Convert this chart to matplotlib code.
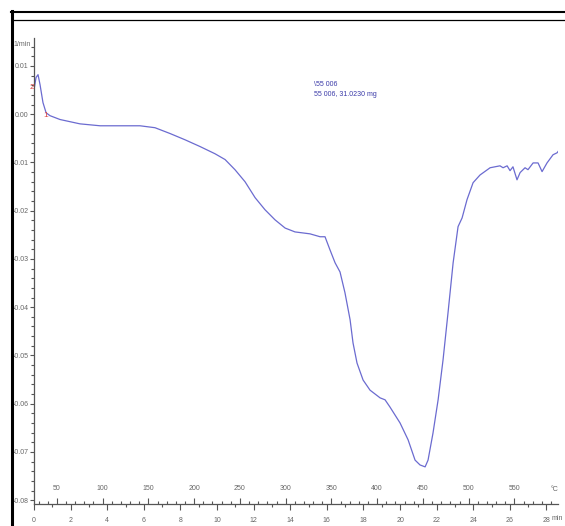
import numpy as np
import matplotlib.pyplot as plt
from matplotlib.lines import Line2D
from matplotlib.ticker import MultipleLocator

# DTG curve: time [min] and mass-loss rate [1/min]
time_min = [0.00, 0.11, 0.22, 0.33, 0.49, 0.66, 0.87, 1.42, 2.51, 3.61, 4.70, 5.79,
            6.61, 7.43, 8.25, 9.07, 9.89, 10.44, 10.98, 11.53, 12.08, 12.62, 13.17,
            13.72, 14.26, 15.08, 15.63, 15.90, 16.17, 16.45, 16.72, 16.99, 17.27,
            17.43, 17.65, 17.98, 18.36, 18.91, 19.18, 19.45, 20.00, 20.44, 20.82,
            21.09, 21.37, 21.53, 21.80, 22.08, 22.35, 22.62, 22.90, 23.17, 23.39,
            23.66, 23.99, 24.37, 24.92, 25.46, 25.63, 25.85, 26.01, 26.17, 26.39,
            26.56, 26.83, 26.99, 27.27, 27.54, 27.76, 28.03, 28.36, 28.58, 28.74]
dtg = [0.0051, 0.0076, 0.0082, 0.0061, 0.0024, 0.0003, -0.0003, -0.0011, -0.0020,
       -0.0024, -0.0024, -0.0024, -0.0028, -0.0040, -0.0053, -0.0067, -0.0082,
       -0.0094, -0.0115, -0.0140, -0.0173, -0.0198, -0.0219, -0.0236, -0.0244,
       -0.0248, -0.0254, -0.0254, -0.0281, -0.0308, -0.0327, -0.0370, -0.0426,
       -0.0474, -0.0516, -0.0551, -0.0572, -0.0588, -0.0592, -0.0607, -0.0640,
       -0.0675, -0.0717, -0.0727, -0.0731, -0.0717, -0.0661, -0.0592, -0.0509,
       -0.0412, -0.0308, -0.0233, -0.0215, -0.0177, -0.0142, -0.0126, -0.0111,
       -0.0107, -0.0111, -0.0107, -0.0117, -0.0109, -0.0136, -0.0121, -0.0111,
       -0.0115, -0.0101, -0.0101, -0.0119, -0.0101, -0.0084, -0.0080, -0.0072]

# heating program: start temperature and rate
t_start = 25.0
rate = 20.0

y_ticks = [0.01, 0.00, -0.01, -0.02, -0.03, -0.04, -0.05, -0.06, -0.07, -0.08]
time_ticks = list(range(0, 29, 2))
temp_ticks = list(range(50, 551, 50))

sample_lines = ["\\55 006", "55 006, 31.0230 mg"]

plt.rcParams['font.family'] = ['Liberation Sans', 'DejaVu Sans']
plt.rcParams['axes.unicode_minus'] = False

fig = plt.figure(figsize=(5.65, 5.26), dpi=100)
ax = fig.add_axes([0.0602, 0.0418, 0.9274, 0.886])

ax.plot(time_min, dtg, color='#6b6bd0', lw=0.9)

ax.set_xlim(0, 28.63)
ax.set_ylim(-0.0808, 0.0158)

for s in ['top', 'right']:
    ax.spines[s].set_visible(False)
for s in ['left', 'bottom']:
    ax.spines[s].set_color('#555555')
    ax.spines[s].set_linewidth(0.9)

gray = '#666666'
fs = 5
# y axis
ax.set_yticks(y_ticks)
ax.set_yticklabels(['%.2f' % v if abs(v) > 1e-9 else '0.00' for v in y_ticks])
ax.yaxis.set_minor_locator(MultipleLocator(0.002))
ax.tick_params(axis='y', which='major', length=3, width=0.8, colors='#555555',
               labelcolor=gray, labelsize=fs, pad=1)
ax.tick_params(axis='y', which='minor', length=2, width=0.8, colors='#555555')
ax.text(-0.2, 0.0144, '1/min', ha='right', va='center', fontsize=fs, color=gray)

# time axis below the line
ax.set_xticks(time_ticks)
ax.set_xticklabels([str(t) for t in time_ticks])
ax.xaxis.set_minor_locator(MultipleLocator(1))
ax.tick_params(axis='x', which='major', length=4, width=0.8, colors='#555555',
               labelcolor=gray, labelsize=fs, pad=5)
ax.tick_params(axis='x', which='minor', length=2.5, width=0.8, colors='#555555')

# temperature axis above the line
sec = ax.secondary_xaxis(0, functions=(lambda t: t_start + rate * t,
                                       lambda T: (T - t_start) / rate))
sec.set_xticks(temp_ticks)
sec.set_xticklabels([str(T) for T in temp_ticks])
sec.xaxis.set_minor_locator(MultipleLocator(10))
sec.spines['bottom'].set_visible(False)
sec.tick_params(axis='x', which='major', direction='in', length=4, width=0.8,
                colors='#555555', labelcolor=gray, labelsize=fs, pad=-13.5)
sec.tick_params(axis='x', which='minor', direction='in', length=2.5, width=0.8,
                colors='#555555')

tr = ax.get_xaxis_transform()
ax.text(28.63, 0.032, '°C', ha='right', va='center', fontsize=fs, color=gray, transform=tr)
ax.text(28.3, -0.032, 'min', ha='left', va='center', fontsize=fs, color=gray, transform=tr)

# sample info
ax.text(15.3, 0.0062, sample_lines[0], fontsize=fs, color='#3a3aa8', va='center')
ax.text(15.3, 0.0041, sample_lines[1], fontsize=fs, color='#3a3aa8', va='center')

# red step markers
ax.text(-0.1, 0.0055, '2', fontsize=6, color='#dd4444', ha='center', va='center')
ax.text(0.66, -0.0002, '1', fontsize=6, color='#dd4444', ha='center', va='center')

# outer frame
fig.add_artist(Line2D([0.0212, 0.0212], [0.0, 0.979], color='black', lw=2.2,
                      transform=fig.transFigure))
fig.add_artist(Line2D([0.0195, 1.0], [0.9781, 0.9781], color='black', lw=1.5,
                      transform=fig.transFigure))
fig.add_artist(Line2D([0.0212, 1.0], [0.962, 0.962], color='black', lw=0.9,
                      transform=fig.transFigure))

fig.savefig('out.png', dpi=100)
